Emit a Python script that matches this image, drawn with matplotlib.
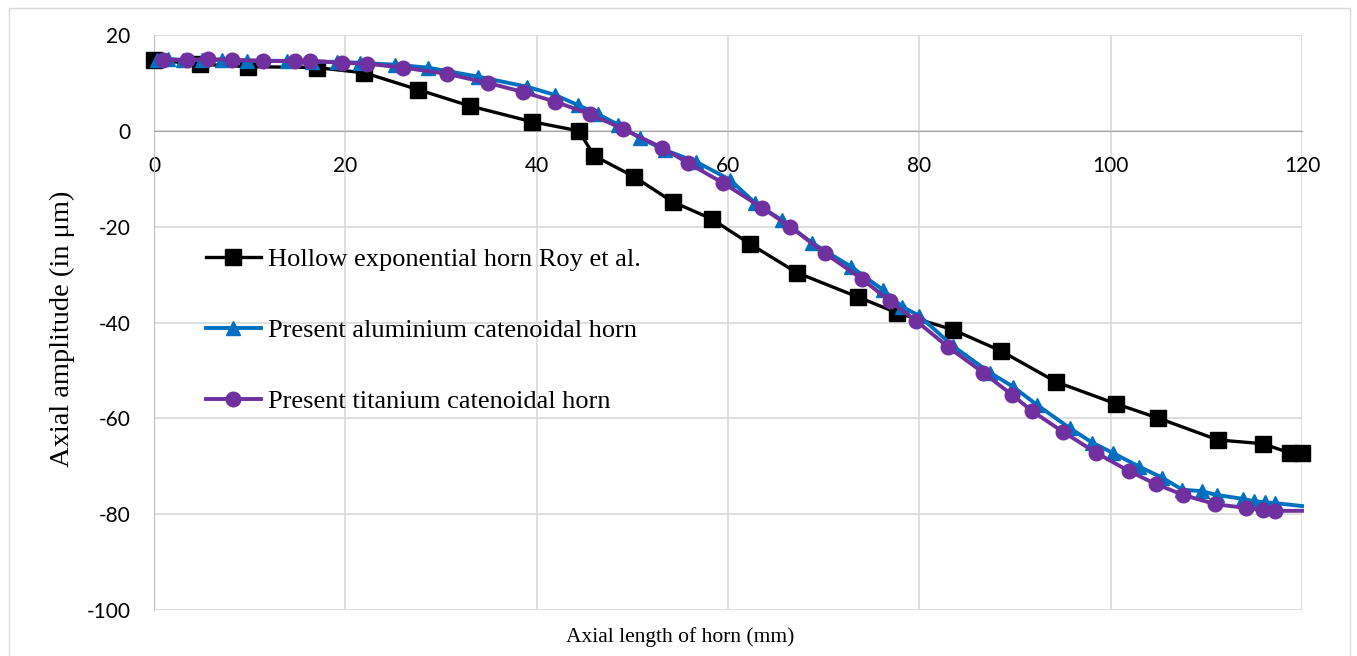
#!/usr/bin/env python

import numpy as np
import matplotlib.pyplot as plt
from matplotlib.patches import Rectangle

plt.rcParams['axes.unicode_minus'] = False

# Hollow exponential horn (Roy et al.)
roy_x = [0, 4.8, 9.8, 17.0, 22.0, 27.6, 33.0, 39.5, 44.4, 46.0, 50.2, 54.2, 58.3,
         62.3, 67.2, 73.6, 77.7, 83.5, 88.5, 94.3, 100.6, 104.9, 111.2, 115.9,
         118.7, 120.0]
roy_y = [14.8, 13.9, 13.4, 13.2, 12.1, 8.6, 5.2, 1.9, 0.0, -5.2, -9.6, -14.8, -18.4,
         -23.6, -29.6, -34.7, -38.0, -41.5, -45.9, -52.4, -57.0, -59.9, -64.5, -65.3,
         -67.2, -67.2]

# present aluminium catenoidal horn
alu_x = [0.3, 1.5, 3.0, 5.0, 7.1, 9.7, 13.9, 16.5, 19.1, 21.5, 25.2, 28.6, 33.9,
         39.0, 41.9, 44.3, 46.4, 48.5, 50.8, 53.4, 56.7, 60.2, 62.8, 65.6, 68.8,
         72.9, 76.2, 78.2, 80.0, 83.5, 87.4, 89.8, 92.3, 95.7, 98.1, 100.2, 103.0,
         105.4, 107.5, 109.5, 111.1, 113.8, 115.0, 116.1, 117.2, 120.0]
alu_y = [14.8, 15.0, 14.8, 14.8, 14.8, 14.6, 14.6, 14.4, 14.4, 14.2, 13.8, 13.2, 11.3,
         9.2, 7.5, 5.4, 3.5, 1.3, -1.5, -4.0, -6.5, -10.2, -15.0, -18.6, -23.4,
         -28.4, -33.2, -36.7, -38.6, -44.9, -50.5, -53.4, -57.2, -62.0, -65.1, -67.2,
         -70.1, -72.4, -74.9, -75.2, -76.0, -76.8, -77.3, -77.5, -77.7, -78.3]

# present titanium catenoidal horn
ti_x = [0.9, 3.4, 5.6, 8.2, 11.4, 14.7, 16.3, 19.7, 22.3, 26.0, 30.6, 34.9, 38.6,
        41.9, 45.6, 49.0, 53.1, 55.8, 59.5, 63.6, 66.5, 70.1, 74.0, 76.9, 79.7,
        83.0, 86.7, 89.7, 91.8, 95.0, 98.5, 101.9, 104.7, 107.6, 110.9, 114.1,
        115.9, 117.2, 120.0]
ti_y = [14.8, 14.8, 15.0, 14.8, 14.6, 14.6, 14.6, 14.2, 14.0, 13.2, 11.9, 10.0, 8.1,
        6.1, 3.5, 0.4, -3.5, -6.7, -10.9, -16.1, -20.0, -25.5, -30.9, -35.5, -39.7,
        -45.1, -50.5, -55.1, -58.5, -62.8, -67.2, -71.0, -73.7, -76.0, -77.9, -78.7,
        -79.1, -79.3, -79.3]

labels = ['Hollow exponential horn Roy et al.',
          'Present aluminium catenoidal horn',
          'Present titanium catenoidal horn']

W, H = 1357, 656
GRID = '#d9d9d9'
SERIF = 'Liberation Serif'
SANS = 'Lato'


def make_chart():
    fig = plt.figure(figsize=(W / 100, H / 100), dpi=100)
    fig.patches.append(Rectangle((9 / W, -0.1), (1350 - 9) / W, 1.1 - 8 / H,
                                 transform=fig.transFigure, fill=False,
                                 edgecolor=GRID, linewidth=1))

    ax = fig.add_axes([154 / W, 1 - 610 / H, (1302 - 154) / W, (610 - 35) / H])

    ax.plot(roy_x, roy_y, color='black', lw=2.4, marker='s', ms=12,
            label=labels[0], zorder=3, clip_on=False)
    ax.plot(alu_x, alu_y, color='#0070C0', lw=2.8, marker='^', ms=10,
            markevery=list(range(len(alu_x) - 1)), label=labels[1], zorder=4,
            clip_on=False)
    ax.plot(ti_x, ti_y, color='#7030A0', lw=2.8, marker='o', ms=10.5,
            markevery=list(range(len(ti_x) - 1)), label=labels[2], zorder=5,
            clip_on=False)

    ax.set_xlim(0, 120)
    ax.set_ylim(-100, 20)
    ax.set_xticks(np.arange(0, 121, 20))
    ax.set_yticks(np.arange(-100, 21, 20))
    ax.grid(True, color=GRID, lw=1.2, zorder=0)
    ax.set_axisbelow(True)

    for side in ['top', 'right']:
        ax.spines[side].set_visible(False)
    ax.spines['bottom'].set_position(('data', 0))
    ax.spines['bottom'].set_color('#a6a6a6')
    ax.spines['left'].set_color('#bfbfbf')
    ax.tick_params(axis='x', length=0, pad=18, labelsize=15, labelcolor='black')
    ax.tick_params(axis='y', length=0, pad=17, labelsize=15, labelcolor='black')
    for t in ax.get_xticklabels() + ax.get_yticklabels():
        t.set_fontfamily(SANS)

    fig.text(62 / W, 1 - 329 / H, 'Axial amplitude (in \u03bcm)', rotation=90,
             ha='center', va='center', fontsize=20.5, family=SERIF)
    fig.text(680 / W, 1 - 637 / H, 'Axial length of horn (mm)',
             ha='center', va='center', fontsize=15.5, family=SERIF)

    ax.legend(loc='upper left', bbox_to_anchor=(0.045, 0.630), frameon=False,
              prop={'family': SERIF, 'size': 19}, borderpad=0, borderaxespad=0,
              handlelength=2.1, handletextpad=0.25, labelspacing=1.8)

    fig.savefig('out.png', dpi=100)


if __name__ == '__main__':
    make_chart()
